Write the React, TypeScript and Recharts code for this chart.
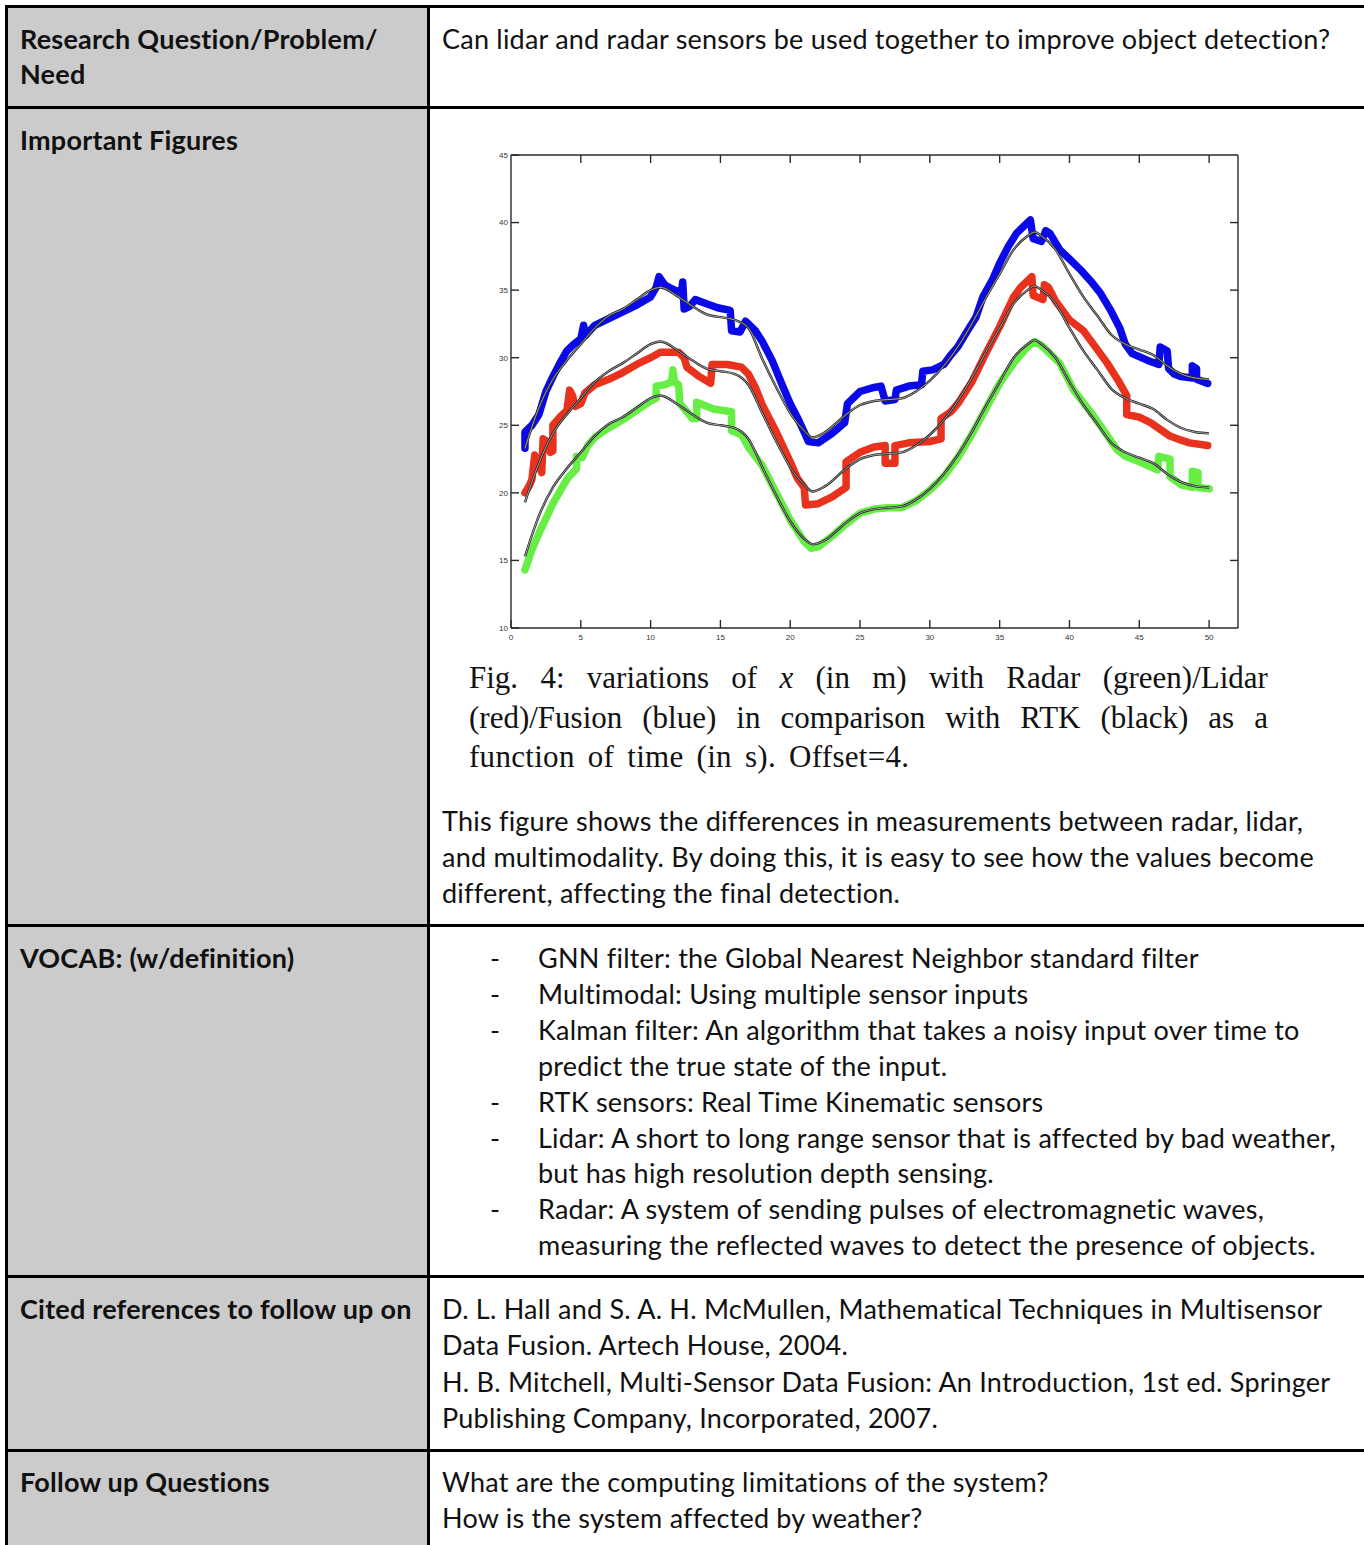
import React from 'react';
import { LineChart, Line, XAxis, YAxis } from 'recharts';

// RTK reference tracks (black), sampled on a common time grid
const rtkTime = [
  1, 2, 3, 4, 5, 6, 7, 8, 9, 10, 10.7, 12, 13, 14, 15, 16, 17, 18, 19, 20, 21, 21.6, 22.5,
  24, 25, 26, 27, 28, 29, 30, 31, 32, 33, 34, 35, 36, 37, 37.5, 38, 39, 40, 41, 42, 43, 44,
  45, 46, 47, 48, 49, 50,
];
const rtkRadar = [
  15.3, 18.3, 20.4, 21.8, 23.0, 24.2, 25.1, 25.6, 26.3, 27.0, 27.2, 26.5, 25.8, 25.2, 25.0, 24.8, 24.0, 21.9, 19.8, 17.9, 16.6, 16.2, 16.5,
  17.8, 18.5, 18.8, 18.9, 19.0, 19.5, 20.3, 21.4, 22.8, 24.5, 26.4, 28.2, 30.0, 31.0, 31.3, 31.0, 30.0, 28.2, 26.5, 25.1, 23.7, 23.0,
  22.6, 22.2, 21.4, 20.8, 20.5, 20.4,
];
const rtkLidar = [
  19.3, 22.2, 24.4, 25.8, 27.0, 28.2, 29.0, 29.6, 30.3, 31.0, 31.2, 30.5, 29.8, 29.2, 29.0, 28.8, 28.0, 25.9, 23.8, 21.9, 20.6, 20.1, 20.5,
  21.8, 22.5, 22.8, 22.9, 23.0, 23.5, 24.3, 25.4, 26.8, 28.5, 30.4, 32.2, 34.0, 35.0, 35.3, 35.0, 34.0, 32.2, 30.5, 29.1, 27.7, 27.0,
  26.6, 26.2, 25.4, 24.8, 24.5, 24.4,
];
const rtkFusion = [
  23.3, 26.3, 28.4, 29.8, 31.0, 32.2, 33.1, 33.6, 34.3, 35.0, 35.2, 34.5, 33.8, 33.2, 33.0, 32.8, 32.2, 29.9, 27.8, 25.9, 24.6, 24.1, 24.5,
  25.8, 26.5, 26.8, 26.9, 27.0, 27.5, 28.3, 29.4, 30.8, 32.5, 34.4, 36.2, 38.0, 39.0, 39.3, 39.0, 38.0, 36.2, 34.5, 33.1, 31.7, 31.0,
  30.6, 30.2, 29.4, 28.8, 28.5, 28.4,
];

// sensor estimates as [time, x] pairs (repeated times are the jumps)
const radarPts = [
  [1, 14.3], [1.5, 15.8], [2, 17.0], [3, 19.2], [4, 21.0], [4.7, 21.8], [4.7, 22.7], [5.1, 22.6], [5.5, 23.5],
  [6, 24.1], [7, 24.8], [7.5, 25.1], [8, 25.4], [9, 26.1], [10, 26.8], [10.4, 27.0], [10.4, 27.9], [11, 28.0],
  [11.5, 28.2], [11.6, 29.1], [11.7, 28.2], [12, 28.0], [12.1, 26.6], [13, 25.5], [13.3, 25.5], [13.3, 26.7],
  [14.5, 26.2], [15.8, 26.0], [15.8, 24.6], [16.5, 24.3], [17, 23.4], [18, 22.0], [19, 20.0], [20, 18.0],
  [21, 16.4], [21.5, 15.9], [22, 16.0], [23, 16.8], [24, 17.7], [25, 18.5], [26, 18.8], [27, 18.9], [28, 18.9],
  [29, 19.4], [30, 20.2], [31, 21.2], [32, 22.6], [33, 24.3], [34, 26.2], [35, 28.1], [36, 29.6], [37, 30.8],
  [37.5, 31.2], [38, 30.9], [39.3, 29.6], [40.3, 27.6], [41.5, 26.0], [42.2, 25.0], [43.4, 23.2], [44, 22.7],
  [45, 22.3], [46.3, 21.7], [46.4, 22.7], [47.2, 22.5], [47.2, 21.2], [48, 20.6], [48.8, 20.4], [48.8, 21.6],
  [49.2, 21.5], [49.2, 20.4], [50, 20.3],
];
const lidarPts = [
  [1, 20.0], [1.3, 20.5], [1.5, 21.0], [1.7, 22.8], [2, 22.0], [2.2, 21.5], [2.3, 24.0], [2.6, 23.8], [2.8, 23.0],
  [3, 23.1], [3, 25.0], [3.5, 25.6], [4, 26.1], [4.2, 27.6], [4.4, 27.2], [4.6, 26.4], [5, 26.6], [5.3, 27.4],
  [6, 28.0], [7, 28.4], [8, 28.9], [9, 29.5], [10, 30.0], [10.7, 30.4], [12, 30.4], [12.4, 30.0], [12.6, 29.3],
  [13.5, 28.6], [14.3, 28.1], [14.4, 29.5], [15.5, 29.5], [16.5, 29.3], [17, 28.8], [17.5, 27.8], [18, 26.5],
  [19, 24.5], [20, 22.3], [20.5, 21.1], [21, 20.4], [21.1, 19.1], [22, 19.2], [23, 19.7], [24, 20.4], [24, 22.3],
  [25, 23.0], [26, 23.4], [26.8, 23.5], [26.8, 22.2], [27.5, 22.2], [27.5, 23.5], [28.5, 23.7], [30, 23.8],
  [30.8, 24.0], [30.8, 25.5], [31.5, 26.0], [32, 26.6], [33, 28.2], [34, 30.3], [35, 32.3], [36, 34.5],
  [36.5, 35.2], [37.3, 36.0], [37.4, 34.6], [38.1, 34.3], [38.2, 35.4], [38.5, 35.2], [39, 34.2], [40, 32.8],
  [41, 32.0], [42, 30.6], [42.7, 29.6], [43.5, 28.3], [44.1, 27.2], [44.1, 25.8], [45, 25.6], [45.8, 25.2],
  [46.5, 24.7], [47.2, 24.2], [48, 23.9], [48.6, 23.7], [49.9, 23.5],
];
const fusionPts = [
  [1, 23.3], [1, 24.5], [1.5, 25.0], [2, 25.8], [2.5, 27.5], [3, 28.6], [3.5, 29.6], [4, 30.5], [4.5, 31.0],
  [5, 31.4], [5.2, 32.4], [5.3, 31.6], [6, 32.4], [7, 32.9], [8, 33.4], [9, 33.9], [10, 34.5], [10.4, 35.2],
  [10.6, 36.0], [11, 35.4], [11.5, 35.1], [12.2, 34.8], [12.3, 35.6], [12.4, 33.6], [12.8, 33.8], [13.2, 34.3],
  [14, 34.0], [14.8, 33.7], [15.7, 33.5], [15.8, 32.0], [16.4, 31.9], [16.8, 32.7], [17.5, 32.0], [18, 31.2],
  [18.7, 29.8], [19.5, 27.8], [20, 26.6], [20.5, 25.6], [21, 24.5], [21.3, 23.8], [22, 23.7], [23, 24.4],
  [23.9, 25.2], [24.1, 26.6], [24.5, 27.0], [25, 27.5], [26, 27.8], [26.5, 27.9], [26.8, 26.8], [27.5, 26.9],
  [27.6, 27.6], [28.5, 27.9], [29.4, 28.0], [29.5, 29.0], [30.2, 29.1], [31, 29.5], [31.5, 30.2], [32, 30.8],
  [32.7, 32.0], [33.3, 33.0], [33.8, 34.5], [34.5, 35.8], [35, 37.0], [35.6, 38.2], [36.2, 39.2], [36.8, 39.8],
  [37.2, 40.2], [37.4, 38.8], [38, 38.6], [38.3, 39.4], [38.6, 39.2], [39.3, 38.0], [40, 37.3], [40.8, 36.5],
  [41.5, 35.7], [42.2, 34.8], [42.9, 33.6], [43.6, 32.2], [44, 31.0], [44.5, 30.3], [45.6, 29.8], [46.4, 29.5],
  [46.5, 30.8], [47, 30.5], [47.1, 29.2], [47.5, 28.8], [48, 28.6], [48.8, 28.5], [48.8, 29.4], [49.1, 29.2],
  [49.1, 28.4], [49.9, 28.1],
];

const xTicks = [0, 5, 10, 15, 20, 25, 30, 35, 40, 45, 50];
const yTicks = [10, 15, 20, 25, 30, 35, 40, 45];
const topTicks = [5, 10, 15, 20, 25, 30, 35, 40, 45, 50];
const rightTicks = [15, 20, 25, 30, 35, 40];

const vocabLines = [
  { dash: true, text: 'GNN filter: the Global Nearest Neighbor standard filter' },
  { dash: true, text: 'Multimodal: Using multiple sensor inputs' },
  { dash: true, text: 'Kalman filter: An algorithm that takes a noisy input over time to' },
  { dash: false, text: 'predict the true state of the input.' },
  { dash: true, text: 'RTK sensors: Real Time Kinematic sensors' },
  { dash: true, text: 'Lidar: A short to long range sensor that is affected by bad weather,' },
  { dash: false, text: 'but has high resolution depth sensing.' },
  { dash: true, text: 'Radar: A system of sending pulses of electromagnetic waves,' },
  { dash: false, text: 'measuring the reflected waves to detect the presence of objects.' },
];
const paragraphLines = [
  'This figure shows the differences in measurements between radar, lidar,',
  'and multimodality. By doing this, it is easy to see how the values become',
  'different, affecting the final detection.',
];
const referenceLines = [
  'D. L. Hall and S. A. H. McMullen, Mathematical Techniques in Multisensor',
  'Data Fusion. Artech House, 2004.',
  'H. B. Mitchell, Multi-Sensor Data Fusion: An Introduction, 1st ed. Springer',
  'Publishing Company, Incorporated, 2007.',
];
const questionLines = [
  'What are the computing limitations of the system?',
  'How is the system affected by weather?',
];

function grid(xs: number[], ys: number[]) {
  return xs.map((x, i) => ({ x, y: ys[i] }));
}
function pts(p: number[][]) {
  return p.map(([x, y]) => ({ x, y }));
}

const FONT = 'Lato, "Open Sans", sans-serif';
const BASE = 28; // baseline offset inside a 36px line box

function Txt({ x, base, bold, children }: { x: number; base: number; bold?: boolean; children: React.ReactNode }) {
  return (
    <div
      style={{
        position: 'absolute',
        left: x,
        top: base - BASE,
        fontFamily: FONT,
        fontSize: 27,
        letterSpacing: 0.22,
        lineHeight: '36px',
        fontWeight: bold ? 700 : 400,
        color: '#111',
        whiteSpace: 'nowrap',
      }}
    >
      {children}
    </div>
  );
}

// tick marks without labels on the mirrored (top / right) axes
const NoLabel = () => <g />;

function Fig() {
  const tickStyle = { fontSize: 8, fill: '#333', fontFamily: '"Liberation Sans", Arial, sans-serif' };
  const axisLine = { stroke: '#2a2a2a', strokeWidth: 1.4 };
  const tickLine = { stroke: '#2a2a2a', strokeWidth: 1.4 };
  const black = [rtkRadar, rtkLidar, rtkFusion];
  const colored = [
    { d: radarPts, c: '#66ee44' },
    { d: lidarPts, c: '#e8321e' },
    { d: fusionPts, c: '#0a0ae8' },
  ];
  return (
    <div style={{ position: 'absolute', left: 470, top: 140 }}>
      <LineChart width={790} height={510} margin={{ top: 14, right: 21, bottom: 0, left: 0 }}>
        <XAxis
          dataKey="x"
          type="number"
          domain={[0, 52.07]}
          ticks={xTicks}
          allowDataOverflow
          height={22}
          tick={tickStyle}
          tickSize={-8}
          tickMargin={14}
          axisLine={axisLine}
          tickLine={tickLine}
        />
        <XAxis
          xAxisId="top"
          orientation="top"
          dataKey="x"
          type="number"
          domain={[0, 52.07]}
          ticks={topTicks}
          allowDataOverflow
          height={1}
          tick={NoLabel}
          tickSize={-8}
          axisLine={axisLine}
          tickLine={tickLine}
        />
        <YAxis
          type="number"
          domain={[10, 45]}
          ticks={yTicks}
          allowDataOverflow
          width={41}
          tick={tickStyle}
          tickSize={-8}
          tickMargin={11}
          axisLine={axisLine}
          tickLine={tickLine}
        />
        <YAxis
          yAxisId="right"
          orientation="right"
          type="number"
          domain={[10, 45]}
          ticks={rightTicks}
          allowDataOverflow
          width={1}
          tick={NoLabel}
          tickSize={-8}
          axisLine={axisLine}
          tickLine={tickLine}
        />
        {colored.map((s, i) => (
          <Line
            key={'c' + i}
            data={pts(s.d)}
            dataKey="y"
            type="linear"
            stroke={s.c}
            strokeWidth={7.5}
            strokeLinecap="round"
            strokeLinejoin="round"
            dot={false}
            isAnimationActive={false}
          />
        ))}
        {black.map((ys, i) => (
          <Line
            key={'k' + i}
            data={grid(rtkTime, ys)}
            dataKey="y"
            type="monotone"
            stroke="#222"
            strokeWidth={2.4}
            dot={false}
            isAnimationActive={false}
          />
        ))}
        {black.map((ys, i) => (
          <Line
            key={'w' + i}
            xAxisId="top"
            yAxisId="right"
            data={grid(rtkTime, ys)}
            dataKey="y"
            type="monotone"
            stroke="#c8c8c8"
            strokeWidth={0.8}
            dot={false}
            isAnimationActive={false}
          />
        ))}
      </LineChart>
    </div>
  );
}

function Caption() {
  const line: React.CSSProperties = {
    position: 'absolute',
    left: 469,
    width: 799,
    fontFamily: '"Liberation Serif", "Times New Roman", serif',
    fontSize: 31,
    lineHeight: '40px',
    color: '#111',
    whiteSpace: 'nowrap',
  };
  const just: React.CSSProperties = { display: 'flex', justifyContent: 'space-between' };
  const words1 = ['Fig.', '4:', 'variations', 'of', 'x', '(in', 'm)', 'with', 'Radar', '(green)/Lidar'];
  const words2 = ['(red)/Fusion', '(blue)', 'in', 'comparison', 'with', 'RTK', '(black)', 'as', 'a'];
  return (
    <>
      <div style={{ ...line, ...just, top: 658 }}>
        {words1.map((w, i) => (
          <span key={i} style={w === 'x' ? { fontStyle: 'italic' } : undefined}>{w}</span>
        ))}
      </div>
      <div style={{ ...line, ...just, top: 698 }}>
        {words2.map((w, i) => (
          <span key={i}>{w}</span>
        ))}
      </div>
      <div style={{ ...line, top: 737, letterSpacing: 0.3, wordSpacing: 5 }}>function of time (in s). Offset=4.</div>
    </>
  );
}

export default function App() {
  const rowLines = [106, 924, 1275, 1449];
  return (
    <div
      style={{
        position: 'absolute',
        left: 0,
        top: 0,
        width: 1364,
        height: 1545,
        overflow: 'hidden',
        background: '#fff',
      }}
    >
      <div style={{ position: 'absolute', left: 7, top: 7, width: 421, height: 1545, background: '#cbcbcb' }} />
      <div style={{ position: 'absolute', left: 5, top: 5, width: 1364, height: 3, background: '#000' }} />
      <div style={{ position: 'absolute', left: 5, top: 5, width: 3, height: 1545, background: '#000' }} />
      <div style={{ position: 'absolute', left: 427, top: 5, width: 3, height: 1545, background: '#000' }} />
      {rowLines.map((y) => (
        <div key={y} style={{ position: 'absolute', left: 5, top: y, width: 1364, height: 3, background: '#000' }} />
      ))}

      <Txt x={20} base={49} bold>Research Question/Problem/</Txt>
      <Txt x={20} base={84} bold>Need</Txt>
      <Txt x={20} base={150} bold>Important Figures</Txt>
      <Txt x={20} base={968} bold>VOCAB: (w/definition)</Txt>
      <Txt x={20} base={1319} bold>Cited references to follow up on</Txt>
      <Txt x={20} base={1492} bold>Follow up Questions</Txt>

      <Txt x={442} base={49}>Can lidar and radar sensors be used together to improve object detection?</Txt>

      <Fig />
      <Caption />

      {paragraphLines.map((t, i) => (
        <Txt key={t} x={442} base={831 + i * 36}>{t}</Txt>
      ))}
      {vocabLines.map((l, i) => (
        <React.Fragment key={l.text}>
          {l.dash && <Txt x={490} base={968 + i * 35.9}>-</Txt>}
          <Txt x={538} base={968 + i * 35.9}>{l.text}</Txt>
        </React.Fragment>
      ))}
      {referenceLines.map((t, i) => (
        <Txt key={t} x={442} base={1319 + i * 36.3}>{t}</Txt>
      ))}
      {questionLines.map((t, i) => (
        <Txt key={t} x={442} base={1492 + i * 36}>{t}</Txt>
      ))}
    </div>
  );
}
